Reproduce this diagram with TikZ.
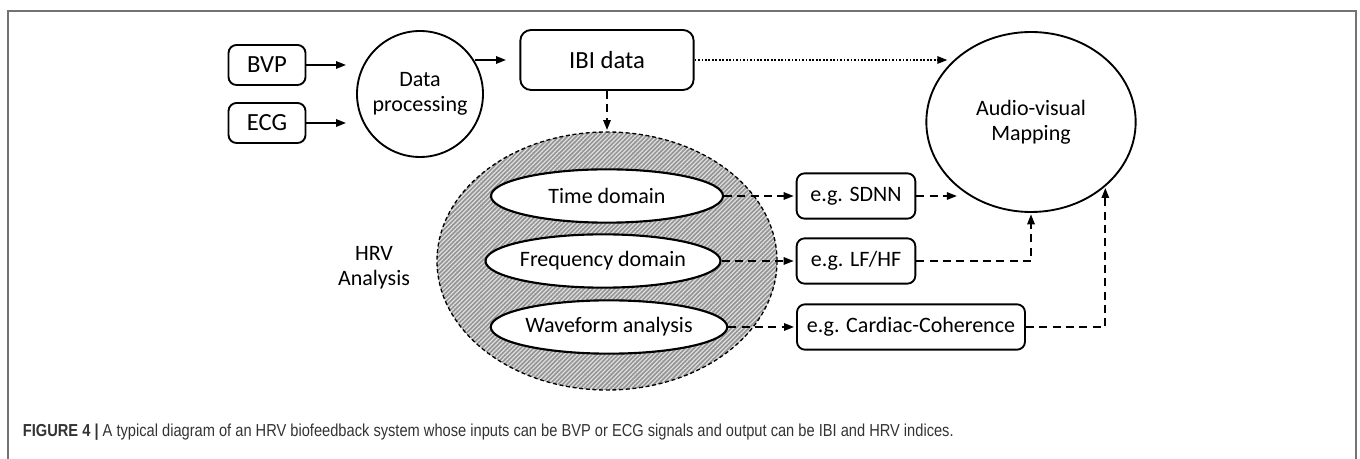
\documentclass[tikz,border=0pt]{standalone}
\usepackage{fontspec}
\setmainfont{Carlito}
\newfontfamily\capfont[FakeStretch=0.845]{Liberation Sans}
\usetikzlibrary{arrows.meta,shapes.geometric,patterns.meta}

\begin{document}
\begin{tikzpicture}[x=0.75pt,y=0.75pt,yscale=-1,xscale=1,
  line width=1.4pt,
  tip/.style={-{Triangle[length=7.5pt,width=5.5pt]}},
  dashline/.style={dash pattern=on 6pt off 4pt},
  dotline/.style={dash pattern=on 1.3pt off 1.3pt},
  inbox/.style={draw, rounded corners=6pt, minimum width=57.75pt, minimum height=30pt, font=\fontsize{18.5}{22}\selectfont},
  idxbox/.style={draw, rounded corners=6pt, minimum height=34pt, inner xsep=6pt, font=\fontsize{16.5}{20}\selectfont},
  oval/.style={draw, ellipse, inner sep=0pt, minimum width=174pt, minimum height=40pt, fill=white, line width=1.6pt, font=\fontsize{16.5}{20}\selectfont},
  lbl/.style={align=center, font=\fontsize{16.5}{19}\selectfont}
]
\useasboundingbox (0,0) rectangle (1360,459);
%Frame
\draw [line width=1pt, color=black!55] (8,459) -- (8,11) -- (1356,11) -- (1356,459) ;

% Input Nodes
\node [inbox] (bvp) at (267,65) {BVP};
\node [inbox] (ecg) at (267,123) {ECG};
% Circle Node
\node [draw, circle, minimum size=94.5pt, inner sep=0pt, lbl] (dp) at (420,94) {Data\\processing};
% Box Node
\node [draw, rounded corners=8pt, minimum width=130pt, minimum height=45pt, font=\fontsize{18.5}{22}\selectfont] (ibi) at (607,60) {IBI data};
% Ellipse Node
\node [draw, ellipse, minimum width=157pt, minimum height=135pt, inner sep=0pt, lbl] (av) at (1031,122) {Audio-visual\\Mapping};

% Hatched Ellipse
\node [draw, ellipse, line width=1pt, dash pattern=on 3pt off 2pt, minimum width=255pt, minimum height=193.5pt,
  preaction={fill=black!42}, pattern={Lines[angle=45,distance=2.3pt,line width=0.9pt]}, pattern color=black!12] (hrv) at (607,261) {};
\node [lbl] (hrvlbl) at (374,268) {HRV\\Analysis};
\node [oval] (td) at (607,196) {Time domain};
\node [oval] (fd) at (603,261) {Frequency domain};
\node [oval] (wa) at (609,327) {Waveform analysis};

% Index Boxes
\node [idxbox, minimum width=89pt] (sdnn) at (856,196) {e.g. SDNN};
\node [idxbox, minimum width=89pt] (lfhf) at (856,261) {e.g. LF/HF};
\node [idxbox, minimum width=171pt] (cc) at (911,327) {e.g. Cardiac-Coherence};

%Straight Lines
\draw [tip, shorten >=7.5pt] (bvp.east) -- (bvp.east -| dp.west) ;
\draw [tip, shorten >=7.5pt] (ecg.east) -- (ecg.east -| dp.west) ;
\draw [tip, shorten >=10pt] (dp.30 |- ibi.west) -- (ibi.west) ;
\draw [tip, dotline, shorten >=6pt] (ibi.east) -- (ibi.east -| av.140) ;
\draw [tip, dashline, shorten >=1pt] (ibi.south) -- (hrv.north) ;
%Dashed Lines
\draw [tip, dashline, shorten >=1.5pt] (td.east) -- (sdnn.west) ;
\draw [tip, dashline, shorten >=1.5pt] (fd.east) -- (lfhf.west) ;
\draw [tip, dashline, shorten >=1.5pt] (wa.east) -- (cc.west) ;
\draw [tip, dashline, shorten >=7pt] (sdnn.east) -- (sdnn.east -| av.228) ;
\draw [tip, dashline, shorten >=1pt] (lfhf.east) -| (av.south) ;
\draw [tip, dashline, shorten >=1pt] (cc.east) -| (av.319) ;

% Caption
\node [anchor=west, inner sep=0pt, text=black!80, font=\capfont\fontsize{13}{15}\selectfont] (cap) at (22,432)
  {\textbf{FIGURE 4 \textbar} A typical diagram of an HRV biofeedback system whose inputs can be BVP or ECG signals and output can be IBI and HRV indices.};
\end{tikzpicture}
\end{document}
